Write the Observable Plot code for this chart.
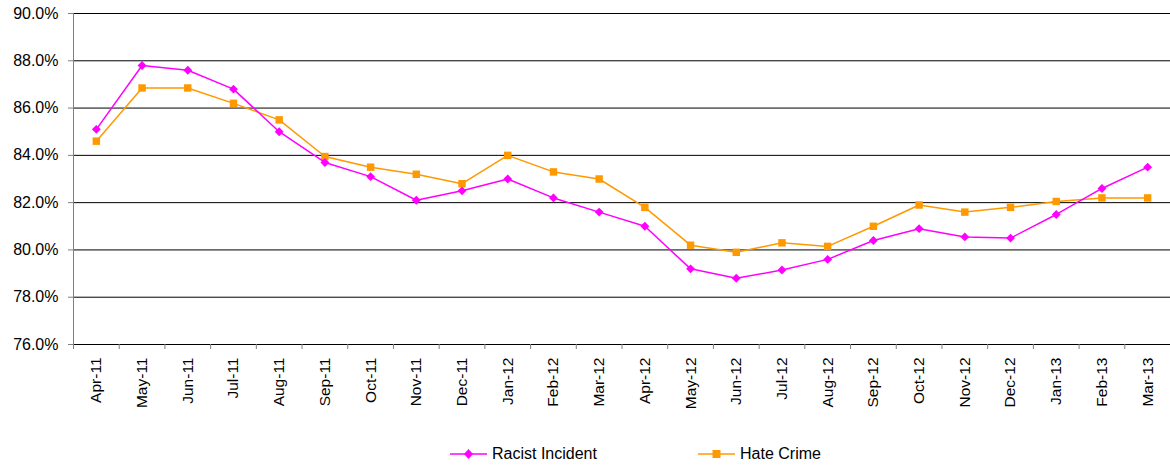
<!DOCTYPE html>
<html><head><meta charset="utf-8">
<script src="https://cdn.jsdelivr.net/npm/d3@7"></script>
<script src="https://cdn.jsdelivr.net/npm/@observablehq/plot@0.6"></script>
<style>
body{margin:0;background:#fff;font-family:"Liberation Sans",Arial,sans-serif;}
#chart svg{display:block;}
#legend{position:relative;height:40px;width:1170px;}
.item{position:absolute;top:19px;height:20px;display:flex;align-items:center;font-size:16px;color:#000;white-space:nowrap;}
.item svg{display:block;margin-right:5px;}
</style></head><body>
<div id="chart"></div>
<div id="legend"></div>
<script>
const months = ["Apr-11","May-11","Jun-11","Jul-11","Aug-11","Sep-11","Oct-11","Nov-11","Dec-11",
  "Jan-12","Feb-12","Mar-12","Apr-12","May-12","Jun-12","Jul-12","Aug-12","Sep-12","Oct-12","Nov-12","Dec-12",
  "Jan-13","Feb-13","Mar-13"];
const racist = [85.1,87.8,87.6,86.8,85.0,83.7,83.1,82.1,82.5,83.0,82.2,81.6,81.0,79.2,78.8,79.15,79.6,80.4,80.9,80.55,80.5,81.5,82.6,83.5];
const hate = [84.6,86.85,86.85,86.2,85.5,83.95,83.5,83.2,82.8,84.0,83.3,83.0,81.8,80.2,79.9,80.3,80.15,81.0,81.9,81.6,81.8,82.05,82.2,82.2];
const yTicks = [76,78,80,82,84,86,88,90];
const seriesNames = ["Racist Incident","Hate Crime"];
const colors = ["#FF00FF","#FF9900"];

const W = 1170, H = 425, mL = 73, mR = 0, mT = 13, mB = 81;
const step = (W - mL - mR) / months.length;
const rows = months.map((m, i) => ({month: m, racist: racist[i], hate: hate[i]}));

const chart = Plot.plot({
  width: W, height: H,
  marginLeft: mL, marginRight: mR, marginTop: mT, marginBottom: mB,
  style: {fontFamily: '"Liberation Sans", Arial, sans-serif', background: "#fff", overflow: "visible"},
  x: {type: "point", domain: months, padding: 0.5, round: false},
  y: {domain: [76, 90]},
  marks: [
    Plot.gridY(yTicks, {stroke: "#000", strokeOpacity: 1, strokeWidth: 1}),
    Plot.ruleX([months[0]], {dx: -step / 2, stroke: "#808080", strokeWidth: 1}),
    Plot.ruleX(months, {y1: 76, y2: 76 - 5 * 14 / (H - mT - mB), dx: -step / 2, stroke: "#808080", strokeWidth: 1, clip: false}),
    Plot.axisY(yTicks, {tickSize: 5, tickPadding: 10, fontSize: 16, stroke: "#808080", fill: "#000",
      tickFormat: d => d.toFixed(1) + "%", label: null}),
    Plot.axisX(months, {tickSize: 0, tickPadding: 13, tickRotate: -90, fontSize: 15.5, fill: "#000", label: null}),
    Plot.line(rows, {x: "month", y: "hate", stroke: colors[1], strokeWidth: 1.5}),
    Plot.dot(rows, {x: "month", y: "hate", symbol: "square", r: 4.2, fill: colors[1], stroke: null}),
    Plot.line(rows, {x: "month", y: "racist", stroke: colors[0], strokeWidth: 1.5}),
    Plot.dot(rows, {x: "month", y: "racist", symbol: "diamond2", r: 4, fill: colors[0], stroke: null})
  ]
});
d3.select(chart).selectAll('[aria-label="x-axis tick label"]').attr("font-size", 15.5).selectAll("text").attr("font-size", 15.5);
document.getElementById("chart").appendChild(chart);

const legend = document.getElementById("legend");
const lefts = [450, 698];
seriesNames.forEach((name, i) => {
  const item = document.createElement("div");
  item.className = "item";
  item.style.left = lefts[i] + "px";
  const marker = i === 0
    ? '<path d="M18.5,1 L23,6 L18.5,11 L14,6 Z" fill="' + colors[i] + '"/>'
    : '<rect x="14.5" y="2" width="8" height="8" fill="' + colors[i] + '"/>';
  item.innerHTML = '<svg width="37" height="12"><line x1="0" y1="6" x2="37" y2="6" stroke="' + colors[i] +
    '" stroke-width="2" stroke-opacity="0.75"/>' + marker + '</svg><span>' + name + '</span>';
  legend.appendChild(item);
});
</script>
</body></html>
